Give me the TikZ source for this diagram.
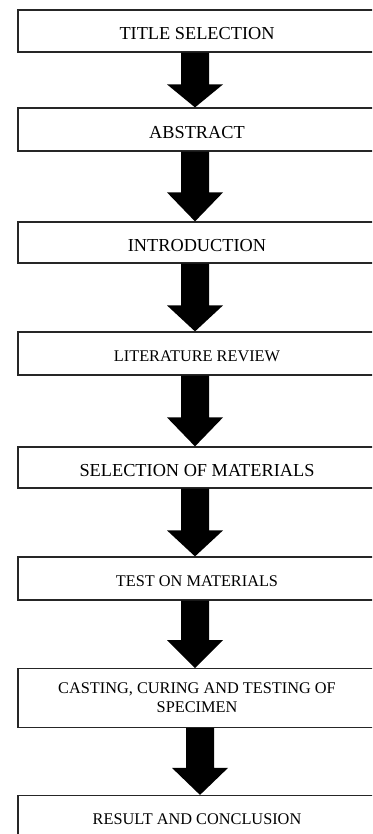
\documentclass[tikz,border=0pt]{standalone}
\usepackage{fontspec}
\setmainfont{Liberation Serif}
\usetikzlibrary{calc}

% Thick block arrow from the bottom of one box to the top of the next.
% #1 source node, #2 target node, #3 x of the shaft axis, #4 head length
\newcommand{\flowarrow}[4]{%
  \fill ($(#1.south -| #3,0)+(-14,0)$) -- ($(#1.south -| #3,0)+(14,0)$)
     -- ($(#2.north -| #3,0)+(14,-#4)$) -- ($(#2.north -| #3,0)+(28,-#4)$)
     -- (#2.north -| #3,0)
     -- ($(#2.north -| #3,0)+(-28,-#4)$) -- ($(#2.north -| #3,0)+(-14,-#4)$) -- cycle;}

\begin{document}
\begin{tikzpicture}[x=1pt,y=-1pt,
  stagebox/.style={draw=black!85, line width=1.2pt, fill=white,
    minimum width=358pt, inner sep=0pt, align=center},
  bigtext/.style={font=\fontsize{18.3}{20}\selectfont, text height=18pt, text depth=0pt},
  smalltext/.style={font=\fontsize{16.3}{19}\selectfont, text height=16.6pt, text depth=0pt},
  twoline/.style={font=\fontsize{16.3}{19}\selectfont}]
\useasboundingbox (0,0) rectangle (372,834);
\clip (0,0) rectangle (372,834);

\node[stagebox, bigtext,   minimum height=42pt]   (s1) at (197,31)    {TITLE SELECTION};
\node[stagebox, bigtext,   minimum height=43pt]   (s2) at (197,129.5) {ABSTRACT};
\node[stagebox, bigtext,   minimum height=41pt]   (s3) at (197,242.5) {INTRODUCTION};
\node[stagebox, smalltext, minimum height=43pt]   (s4) at (197,353.5) {LITERATURE REVIEW};
\node[stagebox, bigtext,   minimum height=41pt]   (s5) at (197,467.5) {SELECTION OF MATERIALS};
\node[stagebox, smalltext, minimum height=43pt]   (s6) at (197,578.5) {TEST ON MATERIALS};
\node[stagebox, twoline,   minimum height=58.5pt] (s7) at (197,698)   {CASTING, CURING AND TESTING OF\\SPECIMEN};
\node[stagebox, smalltext, minimum height=42pt]   (s8) at (197,816.5) {RESULT AND CONCLUSION};

\flowarrow{s1}{s2}{195}{23}
\flowarrow{s2}{s3}{195}{29}
\flowarrow{s3}{s4}{195}{26}
\flowarrow{s4}{s5}{195}{29}
\flowarrow{s5}{s6}{195}{26}
\flowarrow{s6}{s7}{195}{28}
\flowarrow{s7}{s8}{200}{27}
\end{tikzpicture}
\end{document}
